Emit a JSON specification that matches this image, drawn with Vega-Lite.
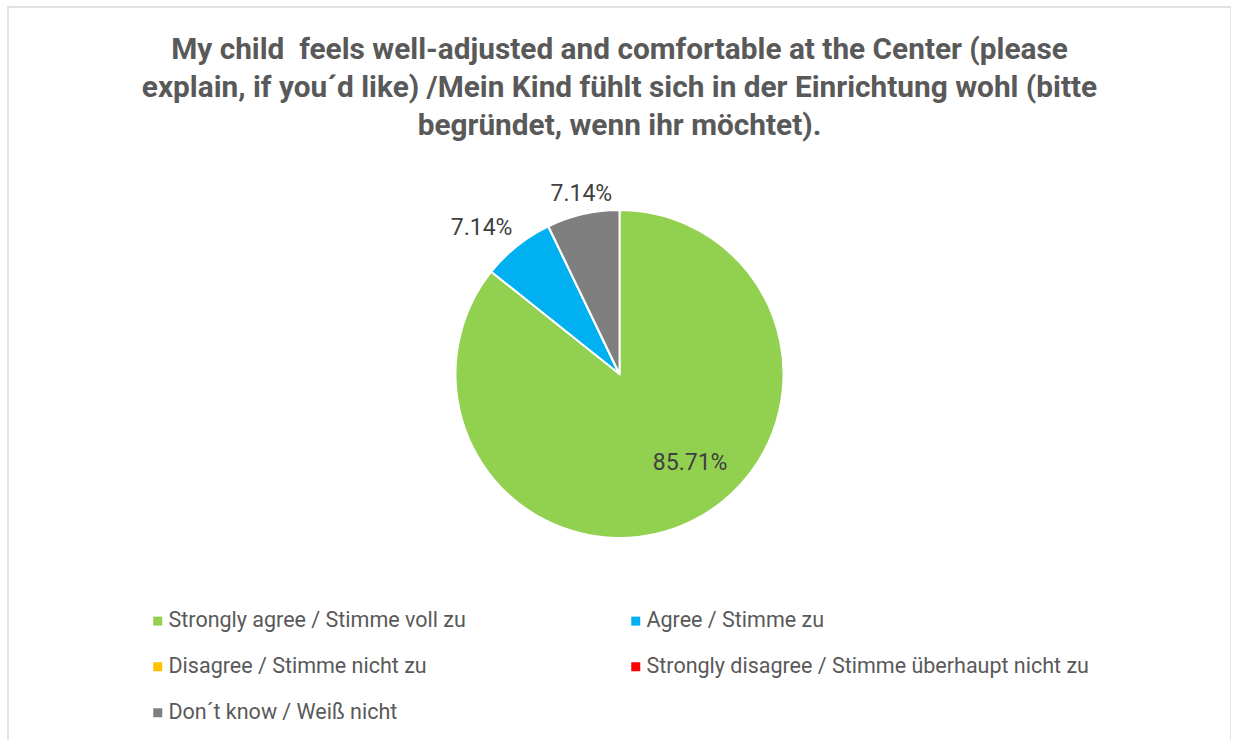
{
  "$schema": "https://vega.github.io/schema/vega-lite/v6.json",
  "width": 1223,
  "height": 734,
  "autosize": {"type": "none"},
  "padding": {"left": 8, "top": 7, "right": 0, "bottom": 0},
  "background": "white",
  "view": {"stroke": "#d9d9d9", "strokeWidth": 1.5, "fill": "white"},
  "config": {"view": {"stroke": "#d9d9d9", "strokeWidth": 1.5}},
  "title": {
    "text": ["My child\u00a0 feels well-adjusted and comfortable at the Center (please", "explain, if you´d like) /Mein Kind fühlt sich in der Einrichtung wohl (bitte", "begründet, wenn ihr möchtet)."],
    "anchor": "middle",
    "frame": "group",
    "font": "Roboto",
    "fontSize": 29.8,
    "fontWeight": "bold",
    "color": "#595959",
    "lineHeight": 38,
    "baseline": "top",
    "offset": 0,
    "dy": 134
  },
  "data": {
    "values": [
      {"idx": 1, "answer": "Strongly agree / Stimme voll zu", "count": 12, "pct": "85.71%"},
      {"idx": 2, "answer": "Agree / Stimme zu", "count": 1, "pct": "7.14%"},
      {"idx": 3, "answer": "Disagree / Stimme nicht zu", "count": 0, "pct": "0.00%"},
      {"idx": 4, "answer": "Strongly disagree / Stimme überhaupt nicht zu", "count": 0, "pct": "0.00%"},
      {"idx": 5, "answer": "Don´t know / Weiß nicht", "count": 1, "pct": "7.14%"}
    ]
  },
  "encoding": {
    "theta": {"field": "count", "type": "quantitative", "stack": true},
    "order": {"field": "idx", "type": "quantitative"}
  },
  "layer": [
    {
      "mark": {"type": "arc", "outerRadius": 164, "stroke": "white", "strokeWidth": 2},
      "encoding": {
        "color": {
          "field": "answer",
          "type": "nominal",
          "sort": null,
          "scale": {
            "domain": ["Strongly agree / Stimme voll zu", "Disagree / Stimme nicht zu", "Don´t know / Weiß nicht", "Agree / Stimme zu", "Strongly disagree / Stimme überhaupt nicht zu"],
            "range": ["#92D050", "#FFC000", "#7F7F7F", "#00B0F0", "#FF0000"]
          },
          "legend": {
            "title": null,
            "orient": "none",
            "legendX": 139,
            "legendY": 603,
            "columns": 2,
            "gridAlign": "all",
            "columnPadding": 14,
            "rowPadding": 23,
            "symbolType": "square",
            "symbolSize": 81,
            "symbolStrokeWidth": 0,
            "labelFont": "Roboto",
            "labelFontSize": 21.5,
            "labelColor": "#595959",
            "labelLimit": 700,
            "labelOffset": 0
          }
        }
      }
    },
    {
      "mark": {"type": "text", "radius": 112, "dx": 22, "dy": -12, "font": "Roboto", "fontSize": 23, "color": "#404040"},
      "encoding": {
        "text": {"field": "pct"},
        "opacity": {"condition": {"test": "datum.idx === 1", "value": 1}, "value": 0}
      }
    },
    {
      "mark": {"type": "text", "radius": 202, "dx": -12, "dy": 12, "font": "Roboto", "fontSize": 23, "color": "#404040"},
      "encoding": {
        "text": {"field": "pct"},
        "opacity": {"condition": {"test": "datum.idx === 2", "value": 1}, "value": 0}
      }
    },
    {
      "mark": {"type": "text", "radius": 185, "dx": 3, "font": "Roboto", "fontSize": 23, "color": "#404040"},
      "encoding": {
        "text": {"field": "pct"},
        "opacity": {"condition": {"test": "datum.idx === 5", "value": 1}, "value": 0}
      }
    }
  ]
}
